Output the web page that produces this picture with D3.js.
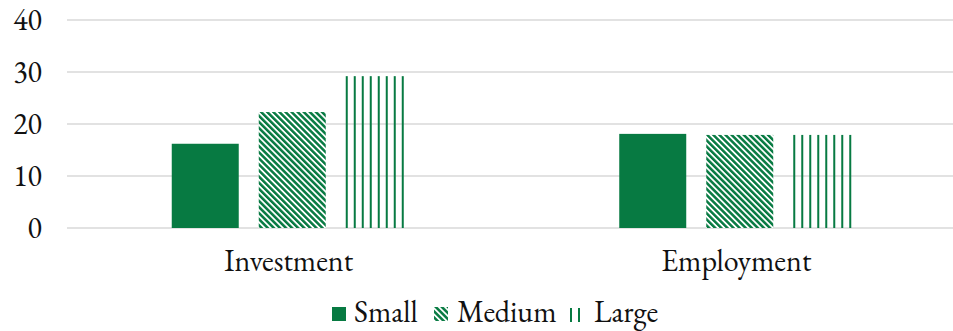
<!DOCTYPE html>
<html>
<head>
<meta charset="utf-8">
<script src="https://cdn.jsdelivr.net/npm/d3@7"></script>
<style>
  body { margin: 0; background: #fff; }
</style>
</head>
<body>
<div id="chart"></div>
<script>
var categories = ["Investment", "Employment"];
var seriesNames = ["Small", "Medium", "Large"];
var small = [16.2, 18.1];
var medium = [22.3, 17.9];
var large = [29.2, 17.9];
var yTicks = [0, 10, 20, 30, 40];

var green = "#077a42";
var W = 953, H = 331;
var serif = "'EB Garamond', 'Liberation Serif', serif";

var svg = d3.select("#chart").append("svg")
    .attr("width", W)
    .attr("height", H);

var defs = svg.append("defs");

// diagonal hatch for Medium
var diag = defs.append("pattern")
    .attr("id", "diag")
    .attr("patternUnits", "userSpaceOnUse")
    .attr("width", 4.3)
    .attr("height", 4.3)
    .attr("patternTransform", "rotate(-45)");
diag.append("rect").attr("width", 4.3).attr("height", 4.3).attr("fill", "#fff");
diag.append("rect").attr("width", 2.5).attr("height", 4.3).attr("fill", green);

var data = categories.map(function(c, i) {
    return { cat: c, Small: small[i], Medium: medium[i], Large: large[i] };
});

var x = d3.scaleBand()
    .domain(categories)
    .range([65, 960])
    .padding(0);

var y = d3.scaleLinear()
    .domain([0, 40])
    .range([228, 20]);

// gridlines
svg.append("g")
    .selectAll("line")
    .data(yTicks)
    .enter().append("line")
    .attr("x1", 67)
    .attr("x2", W)
    .attr("y1", function(d) { return y(d); })
    .attr("y2", function(d) { return y(d); })
    .attr("stroke", "#d9d9d9")
    .attr("stroke-width", 1.3);

// y axis labels
svg.append("g")
    .selectAll("text")
    .data(yTicks)
    .enter().append("text")
    .attr("x", 42)
    .attr("y", function(d) { return y(d); })
    .attr("dy", "0.33em")
    .attr("text-anchor", "end")
    .attr("font-family", serif)
    .attr("font-size", 30)
    .attr("fill", "#111")
    .text(function(d) { return d; });

var xSub = d3.scaleBand()
    .domain(seriesNames)
    .range([0, 241])
    .paddingInner(0.23);

var groups = svg.append("g")
    .selectAll("g")
    .data(data)
    .enter().append("g")
    .attr("transform", function(d) {
        return "translate(" + (x(d.cat) + x.bandwidth() / 2 - 117) + ",0)";
    });

groups.each(function(d) {
    var g = d3.select(this);
    var bw = xSub.bandwidth();
    // Small: solid
    g.append("rect")
        .attr("x", xSub("Small"))
        .attr("y", y(d.Small))
        .attr("width", bw)
        .attr("height", y(0) - y(d.Small))
        .attr("fill", green);
    // Medium: diagonal hatch
    g.append("rect")
        .attr("x", xSub("Medium"))
        .attr("y", y(d.Medium))
        .attr("width", bw)
        .attr("height", y(0) - y(d.Medium))
        .attr("fill", "url(#diag)");
    // Large: vertical lines
    var nLines = Math.floor(bw / 8);
    g.selectAll(".vl")
        .data(d3.range(nLines))
        .enter().append("rect")
        .attr("class", "vl")
        .attr("x", function(k) { return xSub("Large") + k * 8; })
        .attr("y", y(d.Large))
        .attr("width", 2)
        .attr("height", y(0) - y(d.Large))
        .attr("fill", green);
});

// category labels
svg.append("g")
    .selectAll("text")
    .data(categories)
    .enter().append("text")
    .attr("x", function(d) { return x(d) + x.bandwidth() / 2; })
    .attr("y", 271)
    .attr("text-anchor", "middle")
    .attr("font-family", serif)
    .attr("font-size", 30)
    .attr("fill", "#111")
    .text(function(d) { return d; });

// legend
var legendX = [332, 434, 569];
var legendTextX = [22, 23, 25];
var legend = svg.append("g")
    .selectAll("g")
    .data(seriesNames)
    .enter().append("g")
    .attr("transform", function(d, i) { return "translate(" + legendX[i] + ",307)"; });

legend.each(function(d, i) {
    var g = d3.select(this);
    if (d === "Small") {
        g.append("rect").attr("width", 14).attr("height", 14).attr("fill", green);
    } else if (d === "Medium") {
        g.append("rect").attr("width", 14).attr("height", 14).attr("fill", "url(#diag)");
    } else {
        g.append("rect").attr("x", 1).attr("y", 1).attr("width", 2).attr("height", 14).attr("fill", green);
        g.append("rect").attr("x", 9).attr("y", 1).attr("width", 2).attr("height", 14).attr("fill", green);
    }
    g.append("text")
        .attr("x", legendTextX[i])
        .attr("y", 15)
        .attr("font-family", serif)
        .attr("font-size", 30)
        .attr("fill", "#111")
        .text(d);
});
</script>
</body>
</html>
